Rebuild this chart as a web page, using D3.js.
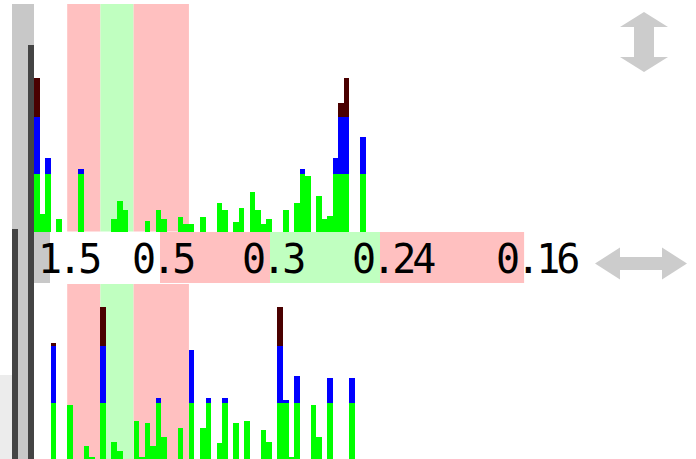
<!DOCTYPE html>
<html>
<head>
<meta charset="utf-8">
<script src="https://cdn.jsdelivr.net/npm/d3@7"></script>
<style>
  body { margin: 0; background: #fff; }
</style>
</head>
<body>
<svg id="chart" width="696" height="459"></svg>
<script>
// bin counts for the two histograms (60 bins each)
const topValues = [154, 18, 74, 0, 13, 0, 0, 0, 63, 0,
                   0, 0, 0, 0, 13, 31, 22, 0, 0, 0,
                   11, 0, 22, 13, 0, 0, 15, 8, 8, 0,
                   15, 0, 0, 29, 22, 0, 10, 24, 0, 40,
                   22, 8, 13, 0, 0, 22, 0, 29, 63, 56,
                   0, 36, 13, 16, 74, 129, 154, 0, 0, 95];
const bottomValues = [0, 0, 0, 118, 0, 0, 56, 0, 0, 15,
                      4, 0, 154, 0, 19, 10, 0, 0, 40, 4,
                      38, 15, 63, 24, 0, 0, 33, 0, 111, 0,
                      33, 63, 0, 18, 63, 0, 38, 0, 40, 0,
                      0, 31, 19, 0, 154, 61, 4, 85, 0, 0,
                      56, 24, 0, 83, 0, 0, 0, 83, 0, 0];

// levels where the bar colour changes (green -> blue -> dark)
const tierBreaks = [0, 58, 115, 1000];
const tierColors = ["#00ff00", "#0000ff", "#4a0000"];

// shaded bin ranges behind the bars
const bands = [
  { from: 6, to: 12, color: "#ffc0c0" },
  { from: 12, to: 18, color: "#c0ffc0" },
  { from: 18, to: 28, color: "#ffc0c0" }
];

// label strip: cell ends (label units) and texts
const labels = ["1.5", "0.5", "0.3", "0.24", "0.16"];
const cellEnds = [0, 1, 2, 3, 4.31];
const cellColors = ["#c8c8c8", "#ffffff", "#ffc0c0", "#c0ffc0", "#ffc0c0"];

const svg = d3.select("#chart");

const x = d3.scaleBand()
  .domain(d3.range(topValues.length))
  .range([34, 366])
  .padding(0);
const binX = d3.scaleLinear().domain([0, topValues.length]).range([34, 366]);

const yTop = d3.scaleLinear().domain([0, 160]).range([231.5, 71.5]);
const yBot = d3.scaleLinear().domain([0, 160]).range([461, 301]);

// left gutter
svg.append("rect").attr("x", 0).attr("y", 375).attr("width", 12).attr("height", 84).attr("fill", "#ececec");
svg.append("rect").attr("x", 12).attr("y", 4).attr("width", 22).attr("height", 455).attr("fill", "#c8c8c8");
svg.append("rect").attr("x", 28).attr("y", 45).attr("width", 6).attr("height", 414).attr("fill", "#444");
svg.append("rect").attr("x", 12).attr("y", 229).attr("width", 6).attr("height", 230).attr("fill", "#444");

function drawPanel(values, y, top, bottom) {
  const g = svg.append("g");

  g.selectAll("rect.band")
    .data(bands)
    .enter()
    .append("rect")
    .attr("class", "band")
    .attr("x", d => binX(d.from))
    .attr("width", d => binX(d.to) - binX(d.from))
    .attr("y", top)
    .attr("height", bottom - top)
    .attr("fill", d => d.color);

  // split each bin value into its coloured tiers
  const segs = [];
  values.forEach((v, i) => {
    tierColors.forEach((c, t) => {
      const lo = tierBreaks[t];
      const hi = Math.min(v, tierBreaks[t + 1]);
      if (hi > lo) segs.push({ i: i, lo: lo, hi: hi, color: c });
    });
  });

  g.selectAll("rect.bar")
    .data(segs)
    .enter()
    .append("rect")
    .attr("class", "bar")
    .attr("x", d => x(d.i))
    .attr("width", x.bandwidth())
    .attr("y", d => y(d.hi))
    .attr("height", d => y(d.lo) - y(d.hi))
    .attr("fill", d => d.color)
    .attr("shape-rendering", "crispEdges");
}

drawPanel(topValues, yTop, 4, 231.5);
drawPanel(bottomValues, yBot, 284, 459);

// label strip
const lx = d3.scaleLinear().domain([0, 1]).range([50, 160]);
const strip = svg.append("g");
const cells = cellEnds.map((e, i) => ({ from: i === 0 ? -0.145 : cellEnds[i - 1], to: e, color: cellColors[i] }));
strip.selectAll("rect")
  .data(cells)
  .enter()
  .append("rect")
  .attr("x", d => lx(d.from))
  .attr("width", d => lx(d.to) - lx(d.from))
  .attr("y", 232)
  .attr("height", 51)
  .attr("fill", d => d.color);

strip.selectAll("text")
  .data(labels)
  .enter()
  .append("text")
  .attr("x", (d, i) => lx(cellEnds[i]) - (i === 0 ? 12 : 28))
  .attr("y", 273)
  .attr("font-family", "DejaVu Sans Mono")
  .attr("font-size", 40)
  .attr("letter-spacing", -4)
  .attr("fill", "#000")
  .text(d => d);

// resize arrows
function vArrow(cx, y0, y1) {
  const hw = 24, sw = 10, hh = 15;
  return `M${cx},${y0} L${cx + hw},${y0 + hh} L${cx + sw},${y0 + hh} L${cx + sw},${y1 - hh} L${cx + hw},${y1 - hh}
          L${cx},${y1} L${cx - hw},${y1 - hh} L${cx - sw},${y1 - hh} L${cx - sw},${y0 + hh} L${cx - hw},${y0 + hh} Z`;
}
function hArrow(cy, x0, x1) {
  const hw = 16, sw = 6.5, hl = 25;
  return `M${x0},${cy} L${x0 + hl},${cy - hw} L${x0 + hl},${cy - sw} L${x1 - hl},${cy - sw} L${x1 - hl},${cy - hw}
          L${x1},${cy} L${x1 - hl},${cy + hw} L${x1 - hl},${cy + sw} L${x0 + hl},${cy + sw} L${x0 + hl},${cy + hw} Z`;
}
svg.append("path").attr("d", vArrow(644, 12, 72)).attr("fill", "#cccccc");
svg.append("path").attr("d", hArrow(263.5, 595, 687)).attr("fill", "#cccccc");
</script>
</body>
</html>
